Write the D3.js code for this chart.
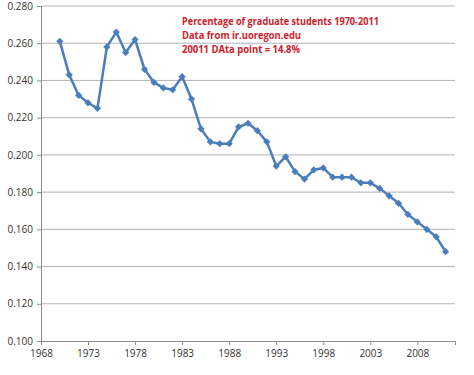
<!DOCTYPE html>
<html>
<head>
<meta charset="utf-8">
<script src="https://cdn.jsdelivr.net/npm/d3@7"></script>
<style>
  body { margin: 0; background: #fff; }
  text { font-family: "Open Sans", "DejaVu Sans", sans-serif; }
</style>
</head>
<body>
<div id="chart"></div>
<script>
const years = d3.range(1970, 2012);
const shares = [
  0.261, 0.243, 0.232, 0.228, 0.225, 0.258, 0.266, 0.255, 0.262, 0.246,
  0.239, 0.236, 0.235, 0.242, 0.230, 0.214, 0.207, 0.206, 0.206, 0.215,
  0.217, 0.213, 0.207, 0.194, 0.199, 0.191, 0.187, 0.192, 0.193, 0.188,
  0.188, 0.188, 0.185, 0.185, 0.182, 0.178, 0.174, 0.168, 0.164, 0.160,
  0.156, 0.148
];
const xTicks = [1968, 1973, 1978, 1983, 1988, 1993, 1998, 2003, 2008];
const yTicks = [0.100, 0.120, 0.140, 0.160, 0.180, 0.200, 0.220, 0.240, 0.260, 0.280];
const titleLines = [
  "Percentage of graduate students 1970-2011",
  "Data from ir.uoregon.edu",
  "20011  DAta point = 14.8%"
];

const w = 474, h = 375;
const plotLeft = 41, plotRight = 455, plotTop = 6, plotBottom = 341;

const svg = d3.select("#chart").append("svg")
  .attr("width", w)
  .attr("height", h);

const x = d3.scaleLinear().domain([1968, 2012]).range([plotLeft, plotRight]);
const y = d3.scaleLinear().domain([0.1, 0.28]).range([plotBottom, plotTop]);

// gridlines
svg.selectAll("line.grid")
  .data(yTicks.slice(1))
  .enter()
  .append("line")
  .attr("class", "grid")
  .attr("x1", plotLeft)
  .attr("x2", plotRight)
  .attr("y1", d => y(d))
  .attr("y2", d => y(d))
  .attr("stroke", "#b3b3b3")
  .attr("stroke-width", 1);

// y axis
const yAxis = svg.append("g")
  .attr("transform", `translate(${plotLeft},0)`)
  .call(d3.axisLeft(y).tickValues(yTicks).tickFormat(d3.format(".3f")).tickSize(4).tickPadding(4));

// x axis
const xAxis = svg.append("g")
  .attr("transform", `translate(0,${plotBottom})`)
  .call(d3.axisBottom(x).tickValues(xTicks).tickFormat(d3.format("d")).tickSize(4).tickPadding(5));

[yAxis, xAxis].forEach(g => {
  g.select(".domain").attr("stroke", "#8c8c8c");
  g.selectAll(".tick line").attr("stroke", "#8c8c8c");
  g.selectAll(".tick text")
    .attr("fill", "#333")
    .style("font-size", "10px")
    .style("font-family", "'Open Sans', sans-serif");
});

// line
const line = d3.line()
  .x((d, i) => x(years[i]))
  .y(d => y(d));

svg.append("path")
  .datum(shares)
  .attr("d", line)
  .attr("fill", "none")
  .attr("stroke", "#4a7ebb")
  .attr("stroke-width", 2.5)
  .attr("stroke-linejoin", "round");

const diamond = d3.symbol().type(d3.symbolSquare).size(26);
svg.selectAll("path.marker")
  .data(shares)
  .enter()
  .append("path")
  .attr("class", "marker")
  .attr("d", diamond)
  .attr("transform", (d, i) => `translate(${x(years[i])},${y(d)}) rotate(45)`)
  .attr("fill", "#4a7ebb");

// annotation (narrow bold face, squeezed to the reference widths)
const noteWidths = [197, 119, 118];
svg.selectAll("text.note")
  .data(titleLines)
  .enter()
  .append("text")
  .attr("class", "note")
  .attr("x", 182)
  .attr("y", (d, i) => 25 + i * 14)
  .text(d => d)
  .attr("textLength", (d, i) => noteWidths[i])
  .attr("lengthAdjust", "spacingAndGlyphs")
  .attr("fill", "#d0202a")
  .style("font-size", "11px")
  .style("font-weight", "bold")
  .style("font-family", "'Open Sans', sans-serif");
</script>
</body>
</html>
